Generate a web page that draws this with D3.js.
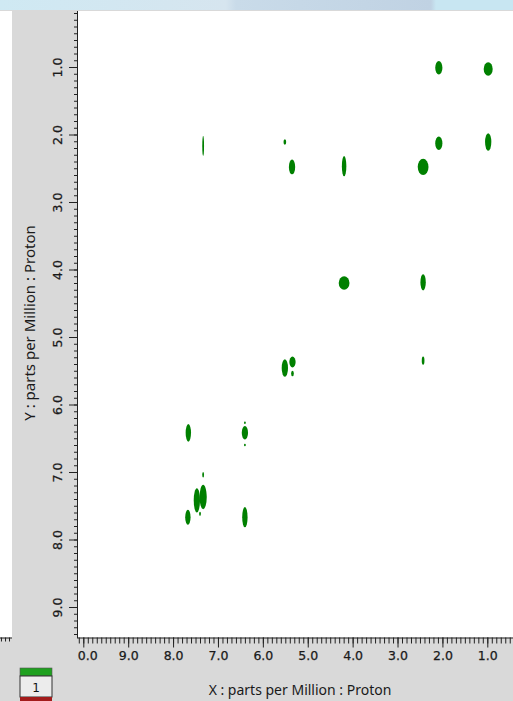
<!DOCTYPE html>
<html>
<head>
<meta charset="utf-8">
<script src="https://cdn.jsdelivr.net/npm/d3@7"></script>
<style>
  body { margin: 0; background: #d9d9d9; overflow: hidden; }
  svg { display: block; }
</style>
</head>
<body>
<div id="chart"></div>
<script>
// cross peaks (ppm)
const peakX = [2.08, 0.98, 2.08, 0.98, 2.43, 4.19, 5.35, 5.51, 7.33, 4.19, 2.43, 5.51, 5.34, 5.34, 2.43,
    7.66, 6.40, 6.40, 6.40, 7.47, 7.33, 7.33, 7.40, 7.67, 6.40];
const peakY = [1.01, 1.03, 2.13, 2.11, 2.48, 2.47, 2.48, 2.11, 2.17, 4.20, 4.19, 5.46, 5.37, 5.54, 5.35,
    6.42, 6.42, 6.27, 6.60, 7.42, 7.37, 7.04, 7.62, 7.67, 7.67];
// half widths of each peak along x and y (ppm)
const peakWx = [0.08, 0.10, 0.08, 0.07, 0.12, 0.05, 0.07, 0.03, 0.02, 0.12, 0.06, 0.07, 0.07, 0.03, 0.03,
    0.06, 0.07, 0.02, 0.02, 0.07, 0.08, 0.02, 0.02, 0.06, 0.06];
const peakWy = [0.10, 0.10, 0.10, 0.13, 0.12, 0.15, 0.11, 0.04, 0.15, 0.10, 0.12, 0.13, 0.08, 0.04, 0.06,
    0.13, 0.10, 0.02, 0.02, 0.18, 0.18, 0.04, 0.03, 0.11, 0.15];

const xTicks = [10, 9, 8, 7, 6, 5, 4, 3, 2, 1];
const yTicks = [1, 2, 3, 4, 5, 6, 7, 8, 9];
const xTitle = "X : parts per Million : Proton";
const yTitle = "Y : parts per Million : Proton";
const legendLabel = "1";

const W = 513, H = 701;
const plot = { left: 78, top: 11, right: 513, bottom: 637.5 };

var x = d3.scaleLinear().domain([10, 1]).range([83.3, 487.3]);
var y = d3.scaleLinear().domain([1, 9]).range([67, 607]);

const svg = d3.select("#chart").append("svg")
    .attr("width", W).attr("height", H)
    .style("font-family", "'DejaVu Sans', sans-serif");

const defs = svg.append("defs");
const grad = defs.append("linearGradient").attr("id", "titlebar");
[["0%", "#cfe9f3"], ["44%", "#d6e5ef"], ["46%", "#c9dbe9"], ["84%", "#c0d2e3"], ["85%", "#c8e6f2"], ["100%", "#c8e6f2"]]
    .forEach(([o, c]) => grad.append("stop").attr("offset", o).attr("stop-color", c));
defs.append("clipPath").attr("id", "plotclip").append("rect")
    .attr("x", plot.left).attr("y", plot.top)
    .attr("width", plot.right - plot.left).attr("height", plot.bottom - plot.top);
// labels of the x axis are cut at the left edge of the plot (so 10.0 shows as "0.0")
defs.append("clipPath").attr("id", "xlabclip").append("rect")
    .attr("x", plot.left - 0.5).attr("y", -1).attr("width", W).attr("height", 40);

// window background bits
svg.append("rect").attr("width", W).attr("height", H).attr("fill", "#d9d9d9");
svg.append("rect").attr("width", W).attr("height", 10).attr("fill", "url(#titlebar)");
svg.append("rect").attr("x", 0).attr("y", plot.top).attr("width", 12).attr("height", plot.bottom - plot.top).attr("fill", "#fff");
svg.append("rect").attr("x", plot.left).attr("y", plot.top)
    .attr("width", plot.right - plot.left).attr("height", plot.bottom - plot.top).attr("fill", "#fff");

// stub of neighbouring axis at far left
const stub = d3.scaleLinear().domain([0, 1]).range([0, 12]);
svg.append("g").attr("transform", `translate(0,${plot.bottom})`)
    .call(d3.axisBottom(stub).tickValues([0.08, 0.42, 0.75]).tickSize(4).tickFormat(""))
    .call(g => g.select(".domain").attr("d", "M0,0.5H12"));

// peaks
svg.append("g").attr("clip-path", "url(#plotclip)")
    .selectAll("ellipse").data(d3.range(peakX.length)).join("ellipse")
    .attr("cx", i => x(peakX[i]))
    .attr("cy", i => y(peakY[i]))
    .attr("rx", i => Math.abs(x(peakX[i] + peakWx[i]) - x(peakX[i])))
    .attr("ry", i => y(peakY[i] + peakWy[i]) - y(peakY[i]))
    .attr("fill", "#008000");

// x axis: minor then major
const axisColor = "#222";
const labelStyle = (sel) => sel
    .attr("font-size", 12.5).attr("fill", "#1a1a1a")
    .attr("stroke", "#1a1a1a").attr("stroke-width", 0.25)
    .attr("font-family", "'DejaVu Sans', sans-serif");

svg.append("g").attr("transform", `translate(0,${plot.bottom})`)
    .call(d3.axisBottom(x).tickValues(d3.range(1, 102).map(d => d / 10).filter(d => x(d) >= plot.left && x(d) <= W)).tickSize(6).tickFormat(""))
    .call(g => g.select(".domain").attr("d", `M${plot.left},0.5H${W}`));
const xg = svg.append("g").attr("transform", `translate(0,${plot.bottom})`)
    .attr("clip-path", "url(#xlabclip)")
    .call(d3.axisBottom(x).tickValues(xTicks).tickSize(10).tickPadding(4).tickFormat(d3.format(".1f")));
xg.select(".domain").remove();
xg.selectAll("text").call(labelStyle);
svg.selectAll(".tick line").attr("stroke", axisColor);
svg.selectAll(".domain").attr("stroke", axisColor);

// y axis: minor then major
svg.append("g").attr("transform", `translate(${plot.left},0)`)
    .call(d3.axisLeft(y).tickValues(d3.range(2, 95).map(d => d / 10).filter(d => y(d) >= plot.top && y(d) <= plot.bottom)).tickSize(4).tickFormat(""))
    .call(g => g.select(".domain").attr("d", `M-0.5,${plot.top}V${plot.bottom + 1}`))
    .call(g => g.selectAll("line").attr("stroke", axisColor))
    .call(g => g.select(".domain").attr("stroke", axisColor));
const yg = svg.append("g").attr("transform", `translate(${plot.left},0)`)
    .call(d3.axisLeft(y).tickValues(yTicks).tickSize(9).tickFormat(d3.format(".1f")));
yg.select(".domain").remove();
yg.selectAll("line").attr("stroke", axisColor);
yg.selectAll("text")
    .call(labelStyle)
    .attr("x", null)
    .attr("text-anchor", "middle")
    .attr("transform", "translate(-20,0) rotate(-90)")
    .attr("dy", "0.35em");

// axis titles
svg.append("text").text(xTitle)
    .attr("x", 300).attr("y", 695)
    .attr("text-anchor", "middle")
    .attr("font-family", "'Noto Sans', sans-serif").attr("font-size", 14).attr("fill", "#1a1a1a");
svg.append("text").text(yTitle)
    .attr("transform", "translate(35,323) rotate(-90)")
    .attr("text-anchor", "middle")
    .attr("font-family", "'Noto Sans', sans-serif").attr("font-size", 15).attr("fill", "#1a1a1a");

// legend tab
const lg = svg.append("g").attr("transform", "translate(20,668)");
lg.append("rect").attr("width", 32).attr("height", 8).attr("fill", "#1fa01f").attr("stroke", "#555").attr("stroke-width", 0.6);
lg.append("rect").attr("y", 8).attr("width", 32).attr("height", 21).attr("fill", "#ececec").attr("stroke", "#333");
lg.append("rect").attr("y", 29).attr("width", 32).attr("height", 6).attr("fill", "#a31c1c");
lg.append("text").text(legendLabel).attr("x", 16).attr("y", 24)
    .attr("text-anchor", "middle").attr("font-size", 12).attr("fill", "#111");
</script>
</body>
</html>
